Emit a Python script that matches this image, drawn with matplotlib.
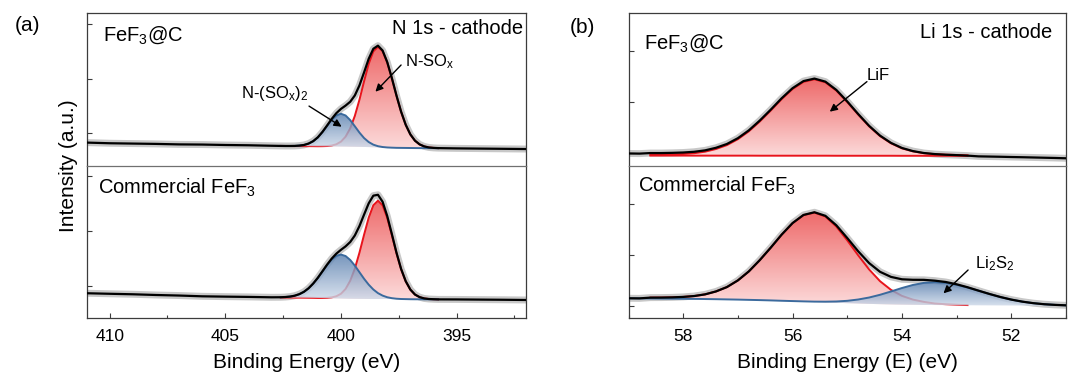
import numpy as np
import matplotlib
matplotlib.use("Agg")
import matplotlib.pyplot as plt
from matplotlib.colors import LinearSegmentedColormap
from matplotlib.ticker import MultipleLocator, StrMethodFormatter

plt.rcParams['font.family'] = ['Liberation Sans', 'DejaVu Sans']
plt.rcParams['mathtext.fontset'] = 'custom'
plt.rcParams['mathtext.rm'] = 'Liberation Sans'
plt.rcParams['mathtext.it'] = 'Liberation Sans:italic'
plt.rcParams['mathtext.default'] = 'regular'

# ---------------- (a) N 1s ----------------
n1s_outer_left = [411.0, 410.0, 409.0, 408.0, 407.0, 406.0, 405.0, 404.0, 403.0]
n1s_fit_energy = [402.6, 402.4, 402.2, 402.0, 401.8, 401.6, 401.4, 401.2, 401.0, 400.8,
                  400.6, 400.4, 400.2, 400.0, 399.8, 399.6, 399.4, 399.2, 399.0, 398.8,
                  398.6, 398.4, 398.2, 398.0, 397.8, 397.6, 397.4, 397.2, 397.0, 396.8,
                  396.6, 396.4, 396.2, 396.0, 395.8]
n1s_outer_right = [395.0, 394.0, 393.0, 392.0]

# FeF3@C
fef3c_n1s_background = [830, 818, 812, 806, 797, 794, 786, 781, 772,
                        769, 768, 767, 766, 766, 765, 765, 764, 763, 762,
                        761, 760, 759, 758, 757, 755, 754, 752, 750, 748,
                        745, 743, 740, 738, 736, 734, 733, 732, 731, 730,
                        729, 729, 728, 728, 727,
                        724, 720, 716, 712]
fef3c_n1s_nsox2 = [0, 0, 1, 3, 9, 21, 47, 92, 163, 261,
                   375, 487, 569, 600, 569, 487, 375, 261, 163, 92,
                   47, 21, 9, 3, 1, 0, 0, 0, 0, 0,
                   0, 0, 0, 0, 0]
fef3c_n1s_nsox = [0, 0, 0, 0, 0, 0, 0, 0, 0, 2,
                  6, 16, 40, 89, 181, 335, 564, 863, 1202, 1523,
                  1755, 1840, 1766, 1563, 1275, 958, 663, 424, 249, 135,
                  68, 31, 13, 5, 2]

# Commercial FeF3
comm_n1s_background = [868, 858, 849, 836, 826, 812, 806, 801, 794,
                       791, 790, 789, 788, 787, 786, 785, 784, 782, 780,
                       778, 776, 774, 772, 770, 768, 767, 766, 765, 764,
                       763, 762, 761, 760, 760, 759, 759, 759, 758, 758,
                       758, 757, 757, 757, 756,
                       755, 752, 749, 745]
comm_n1s_nsox2 = [4, 9, 18, 35, 64, 108, 173, 260, 366, 485,
                  604, 706, 775, 800, 775, 706, 604, 485, 366, 260,
                  173, 108, 64, 35, 18, 9, 4, 2, 1, 0,
                  0, 0, 0, 0, 0]
comm_n1s_nsox = [0, 0, 0, 0, 0, 0, 0, 0, 0, 2,
                 6, 16, 39, 86, 176, 326, 548, 840, 1169, 1480,
                 1708, 1790, 1708, 1480, 1169, 840, 548, 326, 176, 86,
                 39, 16, 6, 2, 0]

# ---------------- (b) Li 1s ----------------
li1s_energy = [59.0, 58.8, 58.6, 58.4, 58.2, 58.0, 57.8, 57.6, 57.4, 57.2,
               57.0, 56.8, 56.6, 56.4, 56.2, 56.0, 55.8, 55.6, 55.4, 55.2,
               55.0, 54.8, 54.6, 54.4, 54.2, 54.0, 53.8, 53.6, 53.4, 53.2,
               53.0, 52.8, 52.6, 52.4, 52.2, 52.0, 51.8, 51.6, 51.4, 51.2,
               51.0]
lif_first, lif_last = 58.6, 52.8   # fitting window of the LiF component

fef3c_li1s_background = [985, 982, 979, 976, 974, 972, 970, 968, 966, 964,
                         962, 961, 960, 959, 958, 957, 956, 955, 954, 953,
                         952, 951, 950, 949, 948, 946, 945, 943, 941, 938,
                         935, 932, 928, 924, 920, 915, 911, 906, 901, 896,
                         890]
fef3c_li1s_fit_base = [943, 943, 943, 943, 942, 942, 942, 942, 942, 942,
                       941, 941, 941, 941, 941, 941, 941, 940, 940, 940,
                       940, 940, 940, 939, 939, 939, 939, 939, 938, 938]
fef3c_li1s_lif = [14, 17, 23, 32, 48, 78, 131, 208, 324, 479,
                  673, 888, 1114, 1314, 1455, 1505, 1446, 1284, 1058, 811,
                  579, 387, 245, 147, 87, 51, 32, 22, 17, 10]

comm_li1s_background = [1146, 1144, 1142, 1140, 1138, 1136, 1134, 1131, 1128, 1124,
                        1120, 1115, 1110, 1104, 1097, 1090, 1082, 1074, 1066, 1058,
                        1050, 1043, 1036, 1030, 1025, 1021, 1018, 1015, 1013, 1011,
                        1009, 1008, 1007, 1006, 1005, 1004, 1003, 1002, 1001, 1000,
                        999]
comm_li1s_lif = [17, 20, 26, 37, 56, 92, 153, 243, 378, 560,
                 787, 1038, 1302, 1536, 1702, 1760, 1691, 1501, 1237, 949,
                 678, 452, 287, 172, 102, 60, 30, 18, 10, 4]
comm_li1s_li2s2 = [0, 0, 0, 0, 0, 0, 0, 0, 0, 0,
                   0, 0, 0, 0, 0, 1, 3, 6, 13, 25,
                   46, 79, 125, 185, 255, 327, 390, 434, 450, 438,
                   403, 351, 289, 225, 166, 116, 77, 48, 28, 16,
                   8]

RED = dict(line='#e8141c', top='#ee6a6a', bottom='#fcdada', alpha=1.0, z=2)
BLUE = dict(line='#3b6a9d', top='#587eae', bottom='#d0dbea', alpha=0.82, z=3)


def gradient_fill(ax, x, low, high, style):
    poly = ax.fill_between(x, low, high, facecolor='none', edgecolor='none')
    cmap = LinearSegmentedColormap.from_list('g', [style['bottom'], style['top']])
    img = ax.imshow(np.linspace(0, 1, 256).reshape(-1, 1), cmap=cmap, origin='lower',
                    aspect='auto', interpolation='bicubic', alpha=style['alpha'],
                    extent=[min(x), max(x), min(low), max(high)], zorder=style['z'])
    img.set_clip_path(poly.get_paths()[0], transform=ax.transData)


def draw_spectrum(ax, energy, background, components):
    """components: (values, index slice, style, own base line or None)"""
    energy = np.asarray(energy, float)
    background = np.asarray(background, float)
    envelope = background.copy()
    for values, sel, style, base in components:
        envelope[sel] += np.asarray(values, float)
    for values, sel, style, base in components:
        x = energy[sel]
        low = background[sel] if base is None else np.asarray(base, float)
        high = low + np.asarray(values, float)
        gradient_fill(ax, x, low, high, style)
        ax.plot(x, high, color=style['line'], lw=1.4, zorder=style['z'] + 0.5)
        if base is not None:
            ax.plot(x, low, color=style['line'], lw=1.4, zorder=style['z'] + 0.5)
    ax.plot(energy, envelope, color='#c8c8c8', lw=5, zorder=1.5, solid_capstyle='round')
    ax.plot(energy, envelope, color='k', lw=1.6, zorder=6)


def arrow(ax, start, tip):
    ax.annotate('', xy=tip, xytext=start, zorder=8,
                arrowprops=dict(arrowstyle='-|>', color='k', lw=1.0,
                                shrinkA=0, shrinkB=0, mutation_scale=11))


fig = plt.figure(figsize=(10.68, 3.76), dpi=100)
ax_a1 = fig.add_axes([0.081, 0.5577, 0.4115, 0.4069])
ax_a2 = fig.add_axes([0.081, 0.1535, 0.4115, 0.4043])
ax_b1 = fig.add_axes([0.5885, 0.5577, 0.4096, 0.4069])
ax_b2 = fig.add_axes([0.5885, 0.1535, 0.4096, 0.4043])

n1s_energy = n1s_outer_left + n1s_fit_energy + n1s_outer_right
n1s_fit = slice(len(n1s_outer_left), len(n1s_outer_left) + len(n1s_fit_energy))
lif_fit = slice(li1s_energy.index(lif_first), li1s_energy.index(lif_last) + 1)
all_li = slice(0, len(li1s_energy))

draw_spectrum(ax_a1, n1s_energy, fef3c_n1s_background,
              [(fef3c_n1s_nsox, n1s_fit, RED, None), (fef3c_n1s_nsox2, n1s_fit, BLUE, None)])
draw_spectrum(ax_a2, n1s_energy, comm_n1s_background,
              [(comm_n1s_nsox, n1s_fit, RED, None), (comm_n1s_nsox2, n1s_fit, BLUE, None)])
draw_spectrum(ax_b1, li1s_energy, fef3c_li1s_background,
              [(fef3c_li1s_lif, lif_fit, RED, fef3c_li1s_fit_base)])
draw_spectrum(ax_b2, li1s_energy, comm_li1s_background,
              [(comm_li1s_lif, lif_fit, RED, None), (comm_li1s_li2s2, all_li, BLUE, None)])

limits = {ax_a1: ((411, 392), (396, 3196)), ax_a2: ((411, 392), (412, 3179)),
          ax_b1: ((59, 51), (732, 3746)), ax_b2: ((59, 51), (752, 3746))}
for ax, (xl, yl) in limits.items():
    ax.set_xlim(*xl)
    ax.set_ylim(*yl)
    for s in ax.spines.values():
        s.set_color('#3c3c3c')
        s.set_linewidth(0.9)
    ax.yaxis.set_major_locator(MultipleLocator(1000))
    ax.tick_params(axis='y', which='both', direction='in', length=3.8, width=0.8,
                   labelleft=False, color='#3c3c3c')
    ax.tick_params(axis='x', which='major', direction='in', length=3.8, width=0.8,
                   labelsize=12.5, pad=8, color='#3c3c3c')
    ax.tick_params(axis='x', which='minor', direction='in', length=2.3, width=0.8,
                   color='#3c3c3c')
    ax.xaxis.set_major_formatter(StrMethodFormatter('{x:.0f}'))

for ax in (ax_a1, ax_a2):
    ax.xaxis.set_major_locator(MultipleLocator(5))
    ax.xaxis.set_minor_locator(MultipleLocator(2.5))
for ax in (ax_b1, ax_b2):
    ax.xaxis.set_major_locator(MultipleLocator(2))
    ax.xaxis.set_minor_locator(MultipleLocator(1))
for ax in (ax_a1, ax_b1):
    ax.tick_params(axis='x', which='both', bottom=False, labelbottom=False)
    ax.spines['bottom'].set_visible(False)
for ax in (ax_a2, ax_b2):
    ax.spines['top'].set_color('#707070')

# panel texts
ax_a1.text(0.0375, 0.821, 'FeF$_3$@C', transform=ax_a1.transAxes, fontsize=14.5, va='baseline')
ax_a1.text(0.993, 0.863, 'N 1s - cathode', transform=ax_a1.transAxes, fontsize=14.5,
           ha='right', va='baseline')
ax_a2.text(0.026, 0.822, 'Commercial FeF$_3$', transform=ax_a2.transAxes, fontsize=14.5,
           va='baseline')
ax_b1.text(0.036, 0.771, 'FeF$_3$@C', transform=ax_b1.transAxes, fontsize=14.5, va='baseline')
ax_b1.text(0.9675, 0.837, 'Li 1s - cathode', transform=ax_b1.transAxes, fontsize=14.5,
           ha='right', va='baseline')
ax_b2.text(0.021, 0.833, 'Commercial FeF$_3$', transform=ax_b2.transAxes, fontsize=14.5,
           va='baseline')

# peak labels with arrows
ax_a1.text(404.32, 1640, 'N-(SO$_x$)$_2$', fontsize=12, va='baseline', zorder=8)
arrow(ax_a1, (401.38, 1498), (399.97, 1121))
ax_a1.text(397.25, 2219, 'N-SO$_x$', fontsize=12, va='baseline', zorder=8)
arrow(ax_a1, (397.40, 2250), (398.51, 1761))
ax_b1.text(54.64, 2432, 'LiF', fontsize=12, va='baseline', zorder=8)
arrow(ax_b1, (54.64, 2400), (55.32, 1808))
ax_b2.text(52.66, 1737, 'Li$_2$S$_2$', fontsize=12, va='baseline', zorder=8)
arrow(ax_b2, (52.79, 1703), (53.24, 1244))

fig.text(0.0257, 0.9335, '(a)', fontsize=15, ha='center', va='center')
fig.text(0.5457, 0.926, '(b)', fontsize=15, ha='center', va='center')
fig.text(0.064, 0.559, 'Intensity (a.u.)', fontsize=15, rotation=90, ha='center', va='center')
fig.text(306.3 / 1068, 0.0205, 'Binding Energy (eV)', fontsize=15, ha='center', va='baseline')
fig.text(847.2 / 1068, 0.0205, 'Binding Energy (E) (eV)', fontsize=15, ha='center',
         va='baseline')

fig.savefig('out.png', dpi=100)
